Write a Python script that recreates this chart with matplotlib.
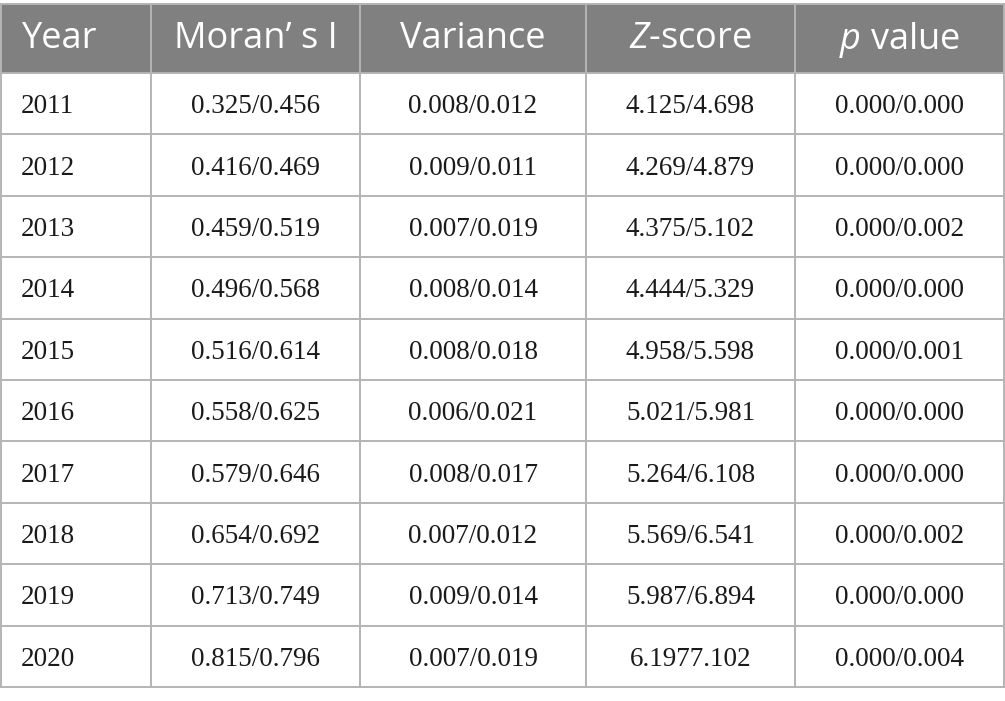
import matplotlib
matplotlib.use("Agg")
import matplotlib.pyplot as plt

plt.rcParams['mathtext.fontset'] = 'custom'
plt.rcParams['mathtext.it'] = 'Open Sans:italic'
plt.rcParams['mathtext.rm'] = 'Open Sans'

# ---- table data ----
headers = ['Year', "Moran\u2019 s I", 'Variance', r'$\mathit{Z}$-score', r'$\mathit{p}$ value']
years = ['2011', '2012', '2013', '2014', '2015', '2016', '2017', '2018', '2019', '2020']
moran = ['0.325/0.456', '0.416/0.469', '0.459/0.519', '0.496/0.568', '0.516/0.614',
         '0.558/0.625', '0.579/0.646', '0.654/0.692', '0.713/0.749', '0.815/0.796']
variance = ['0.008/0.012', '0.009/0.011', '0.007/0.019', '0.008/0.014', '0.008/0.018',
            '0.006/0.021', '0.008/0.017', '0.007/0.012', '0.009/0.014', '0.007/0.019']
zscore = ['4.125/4.698', '4.269/4.879', '4.375/5.102', '4.444/5.329', '4.958/5.598',
          '5.021/5.981', '5.264/6.108', '5.569/6.541', '5.987/6.894', '6.1977.102']
pvalue = ['0.000/0.000', '0.000/0.000', '0.000/0.002', '0.000/0.000', '0.000/0.001',
          '0.000/0.000', '0.000/0.000', '0.000/0.002', '0.000/0.000', '0.000/0.004']

W, H = 1005, 701
col_edges = [1, 151, 360, 586, 795, 1004]
top, header_bottom, bottom = 4, 73, 687
n_rows = len(years)
row_h = (bottom - header_bottom) / n_rows

fig = plt.figure(figsize=(W / 100, H / 100), dpi=100)
ax = fig.add_axes([0, 0, 1, 1])
ax.set_xlim(0, W)
ax.set_ylim(H, 0)
ax.axis('off')

grid_color = '#b4b4b4'
# header background
ax.fill_between([col_edges[0], col_edges[-1]], top, header_bottom, color='#808080', lw=0)

# horizontal lines
for i in range(n_rows + 1):
    y = header_bottom + i * row_h
    ax.plot([col_edges[0], col_edges[-1]], [y, y], color=grid_color, lw=1.4)
ax.plot([col_edges[0], col_edges[-1]], [top, top], color=grid_color, lw=1.4)
# vertical lines
for x in col_edges:
    ax.plot([x, x], [top, bottom], color=grid_color, lw=1.4)

# header text
for j, h in enumerate(headers):
    yc = (top + header_bottom) / 2 + 1
    if j == 0:
        ax.text(col_edges[0] + 21, yc, h, ha='left', va='center', color='white',
                fontsize=26, family='Open Sans')
    else:
        ax.text((col_edges[j] + col_edges[j + 1]) / 2, yc, h, ha='center', va='center',
                color='white', fontsize=26, family='Open Sans')

# body text
columns = [years, moran, variance, zscore, pvalue]
for j, col in enumerate(columns):
    for i, val in enumerate(col):
        yc = header_bottom + (i + 0.5) * row_h + 3
        if j == 0:
            ax.text(col_edges[0] + 20, yc, val, ha='left', va='center', color='#1a1a1a',
                    fontsize=19.5, family='Liberation Serif')
        else:
            ax.text((col_edges[j] + col_edges[j + 1]) / 2, yc, val, ha='center', va='center',
                    color='#1a1a1a', fontsize=19.5, family='Liberation Serif')

fig.savefig('out.png', dpi=100)
